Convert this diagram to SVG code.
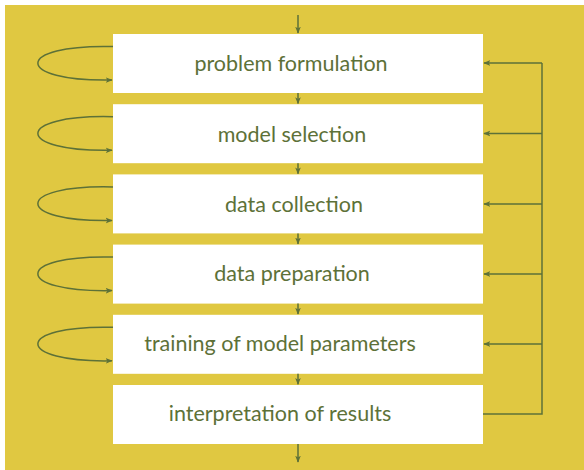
<svg xmlns="http://www.w3.org/2000/svg" width="584" height="470" viewBox="0 0 584 470">
<style>
.box{fill:#ffffff}
.lbl{font-family:Lato,"Open Sans","DejaVu Sans",sans-serif;font-size:21.5px;fill:#5d7138;text-anchor:middle;dominant-baseline:central}
.ln{fill:none;stroke:#5d7138;stroke-width:1.5}
</style>
<defs>
<marker id="ah" viewBox="0 0 10 10" refX="9" refY="5" markerWidth="7" markerHeight="7" markerUnits="userSpaceOnUse" orient="auto">
<path d="M0,1 L10,5 L0,9 L2.5,5 Z" fill="#5d7138"/>
</marker>
</defs>
<rect x="5" y="5" width="579" height="465" fill="#e0c841"/>
<g id="n1"><rect class="box" x="113" y="34" width="370" height="59"/><text class="lbl" x="291" y="63">problem formulation</text></g>
<g id="n2"><rect class="box" x="113" y="104.2" width="370" height="59"/><text class="lbl" x="292" y="133.5">model selection</text></g>
<g id="n3"><rect class="box" x="113" y="174.4" width="370" height="59"/><text class="lbl" x="294" y="204">data collection</text></g>
<g id="n4"><rect class="box" x="113" y="244.6" width="370" height="59"/><text class="lbl" x="292" y="273">data preparation</text></g>
<g id="n5"><rect class="box" x="113" y="314.8" width="370" height="59"/><text class="lbl" x="280" y="343">training of model parameters</text></g>
<g id="n6"><rect class="box" x="113" y="385" width="370" height="59"/><text class="lbl" x="280" y="413">interpretation of results</text></g>
<g id="connectors">
<path class="ln" d="M298,15 V33" marker-end="url(#ah)"/>
<path class="ln" d="M298,93 V103.5" marker-end="url(#ah)"/>
<path class="ln" d="M298,163.2 V173.7" marker-end="url(#ah)"/>
<path class="ln" d="M298,233.4 V243.9" marker-end="url(#ah)"/>
<path class="ln" d="M298,303.6 V314.1" marker-end="url(#ah)"/>
<path class="ln" d="M298,373.8 V384.3" marker-end="url(#ah)"/>
<path class="ln" d="M298,444 V462" marker-end="url(#ah)"/>
<path class="ln" d="M483,414 H542 V63"/>
<path class="ln" d="M542,63 H484" marker-end="url(#ah)"/>
<path class="ln" d="M542,133.5 H484" marker-end="url(#ah)"/>
<path class="ln" d="M542,204 H484" marker-end="url(#ah)"/>
<path class="ln" d="M542,274 H484" marker-end="url(#ah)"/>
<path class="ln" d="M542,344 H484" marker-end="url(#ah)"/>
<path class="ln" d="M113,46.5 C13,44 13,82 112,80" marker-end="url(#ah)"/>
<path class="ln" d="M113,116.7 C13,114.2 13,152.2 112,150.2" marker-end="url(#ah)"/>
<path class="ln" d="M113,186.9 C13,184.4 13,222.4 112,220.4" marker-end="url(#ah)"/>
<path class="ln" d="M113,257.1 C13,254.6 13,292.6 112,290.6" marker-end="url(#ah)"/>
<path class="ln" d="M113,327.3 C13,324.8 13,362.8 112,360.8" marker-end="url(#ah)"/>
</g>
</svg>
